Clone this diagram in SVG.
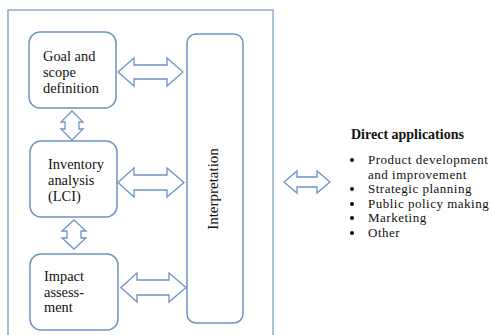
<svg xmlns="http://www.w3.org/2000/svg" width="492" height="335" viewBox="0 0 492 335">
<style>
.frame{fill:none;stroke:#8eabd2;stroke-width:1.5}
.box{fill:#fff;stroke:#6f93c2;stroke-width:1.5}
.arr{fill:#fff;stroke:#6f93c2;stroke-width:1.3;stroke-linejoin:miter}
.t{font-family:"Liberation Serif","Times New Roman",serif;font-size:14.4px;fill:#111}
.h{font-family:"Liberation Serif","Times New Roman",serif;font-size:14px;font-weight:bold;fill:#111}
.b{font-family:"Liberation Serif","Times New Roman",serif;font-size:13px;letter-spacing:0.5px;fill:#111}
</style>
<rect width="492" height="335" fill="#fff"/>
<rect class="frame" x="8" y="10" width="265" height="340"/>
<g id="goal">
<rect class="box" x="29" y="32" width="87" height="76" rx="11"/>
<text class="t" x="43" y="61">Goal and</text>
<text class="t" x="43" y="77">scope</text>
<text class="t" x="43" y="93">definition</text>
</g>
<g id="inventory">
<rect class="box" x="30" y="141" width="87" height="76" rx="11"/>
<text class="t" x="48" y="169">Inventory</text>
<text class="t" x="48" y="185">analysis</text>
<text class="t" x="48" y="201">(LCI)</text>
</g>
<g id="impact">
<rect class="box" x="30" y="254" width="88" height="76" rx="11"/>
<text class="t" x="44" y="281">Impact</text>
<text class="t" x="44" y="297">assess-</text>
<text class="t" x="44" y="312">ment</text>
</g>
<g id="interpretation">
<rect class="box" x="187" y="34" width="56" height="289" rx="9"/>
<text class="t" x="0" y="0" text-anchor="middle" transform="translate(217.5,189) rotate(-90)" style="font-size:15px">Interpretation</text>
</g>
<g id="applications">
<text class="h" x="351" y="139">Direct applications</text>
<g fill="#111">
<circle cx="352" cy="160" r="2"/>
<circle cx="352" cy="189" r="2"/>
<circle cx="352" cy="204" r="2"/>
<circle cx="352" cy="218" r="2"/>
<circle cx="352" cy="233" r="2"/>
</g>
<text class="b" x="368" y="164">Product development</text>
<text class="b" x="368" y="178.6">and improvement</text>
<text class="b" x="368" y="193.2">Strategic planning</text>
<text class="b" x="368" y="207.8">Public policy making</text>
<text class="b" x="368" y="222.4">Marketing</text>
<text class="b" x="368" y="237">Other</text>
</g>
<g id="connectors">
<path class="arr" d="M118,72 L134,58 L134,65 L167,65 L167,58 L183,72 L167,86 L167,79 L134,79 L134,86 Z"/>
<path class="arr" d="M118,182.5 L134,168 L134,175 L167,175 L167,168 L184,182.5 L167,197 L167,190 L134,190 L134,197 Z"/>
<path class="arr" d="M121,287.5 L137,273 L137,280 L169,280 L169,273 L186,287.5 L169,302 L169,295 L137,295 L137,302 Z"/>
<path class="arr" d="M72,111 L83,122 L79,122 L79,129 L83,129 L72,140 L61,129 L65,129 L65,122 L61,122 Z"/>
<path class="arr" d="M74,220 L86,231 L81,231 L81,238 L86,238 L74,249 L62,238 L67,238 L67,231 L62,231 Z"/>
<path class="arr" d="M284,182 L297,171 L297,177 L317,177 L317,171 L330,182 L317,193 L317,187 L297,187 L297,193 Z"/>
</g>
</svg>
